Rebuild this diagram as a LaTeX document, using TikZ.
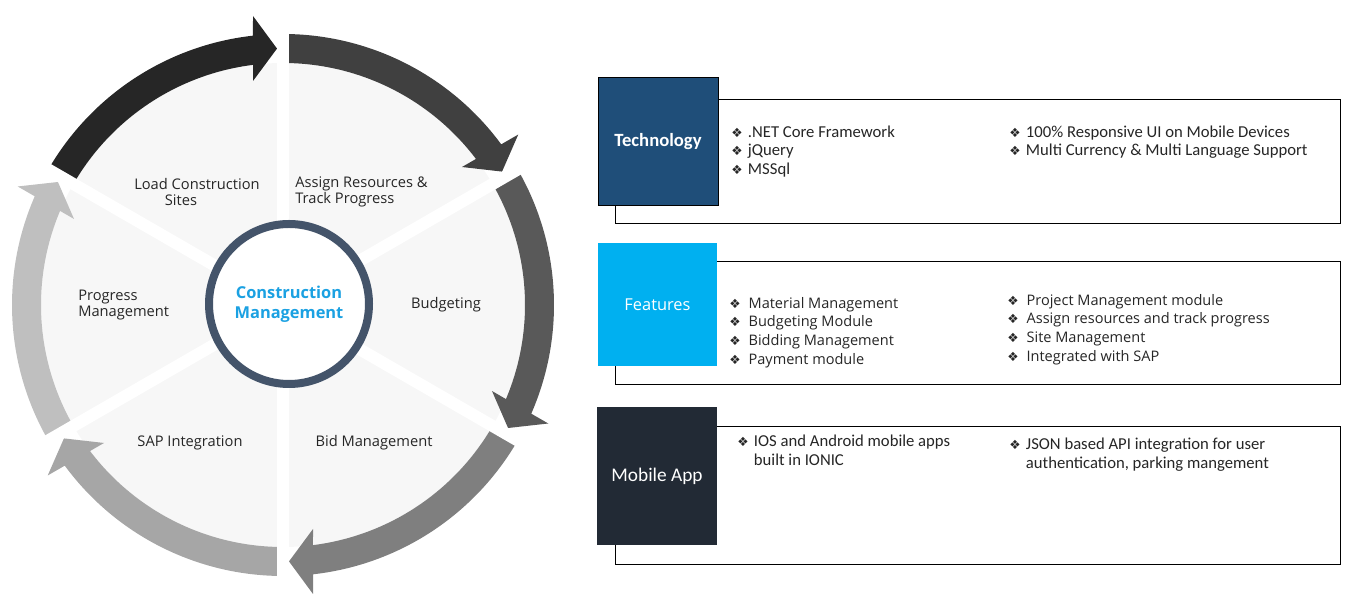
\documentclass[tikz,border=0pt]{standalone}
\usepackage{fontspec}
\setmainfont{Open Sans}
\newfontfamily\narrowfont{Carlito}
\newfontfamily\bulletfont{DejaVu Sans}
\definecolor{arrowA}{HTML}{262626}
\definecolor{arrowB}{HTML}{404040}
\definecolor{arrowC}{HTML}{595959}
\definecolor{arrowD}{HTML}{7F7F7F}
\definecolor{arrowE}{HTML}{A6A6A6}
\definecolor{arrowF}{HTML}{BFBFBF}
\definecolor{diskgray}{HTML}{F7F7F7}
\definecolor{hubring}{HTML}{44546A}
\definecolor{hubtext}{HTML}{1BA1E2}
\definecolor{techblue}{HTML}{1F4E79}
\definecolor{featcyan}{HTML}{00B0F0}
\definecolor{appnavy}{HTML}{222A35}
\definecolor{labeltext}{HTML}{262626}
\newcommand{\bul}{{\bulletfont\fontsize{9.5}{9.5}\selectfont ❖}}
\tikzset{
  gapline/.style={white, line width=9pt},
  hub/.style={circle, draw=hubring, line width=6pt, fill=white, minimum size=120pt,
    inner sep=0pt, align=center, text=hubtext, font=\bfseries\fontsize{12.3}{15}\selectfont},
  seglabel/.style={text=labeltext, inner sep=0pt, align=left, font=\fontsize{11}{12}\selectfont},
  tagbox/.style={inner sep=0pt, text=white},
  panel/.style={draw=black, line width=0.75pt, fill=white, inner sep=0pt, minimum width=543.75pt},
  itemlist/.style={anchor=north west, inner sep=0pt, text=labeltext},
}
\begin{document}
\begin{tikzpicture}[x=0.75pt, y=0.75pt]
    \useasboundingbox (0,0) rectangle (1356,602);
    % wheel
    \begin{scope}[shift={(283,297)}]
        \fill[diskgray] (0,0) circle[radius=242];
        \fill[arrowA] (150:271) arc[start angle=150, end angle=96.36, radius=271] -- (-30,289) -- (-6,256.4) -- (-30,224) -- (97.12:242) arc[start angle=97.12, end angle=150, radius=242] -- cycle;
        \fill[arrowB, rotate=-60] (150:271) arc[start angle=150, end angle=96.36, radius=271] -- (-30,289) -- (-6,256.4) -- (-30,224) -- (97.12:242) arc[start angle=97.12, end angle=150, radius=242] -- cycle;
        \fill[arrowC, rotate=-120] (150:271) arc[start angle=150, end angle=96.36, radius=271] -- (-30,289) -- (-6,256.4) -- (-30,224) -- (97.12:242) arc[start angle=97.12, end angle=150, radius=242] -- cycle;
        \fill[arrowD, rotate=-180] (150:271) arc[start angle=150, end angle=96.36, radius=271] -- (-30,289) -- (-6,256.4) -- (-30,224) -- (97.12:242) arc[start angle=97.12, end angle=150, radius=242] -- cycle;
        \fill[arrowE, rotate=-240] (150:271) arc[start angle=150, end angle=96.36, radius=271] -- (-30,289) -- (-6,256.4) -- (-30,224) -- (97.12:242) arc[start angle=97.12, end angle=150, radius=242] -- cycle;
        \fill[arrowF, rotate=-300] (150:271) arc[start angle=150, end angle=96.36, radius=271] -- (-30,289) -- (-6,256.4) -- (-30,224) -- (97.12:242) arc[start angle=97.12, end angle=150, radius=242] -- cycle;
        \draw[gapline] (0,0) -- (90:300);
        \draw[gapline] (0,0) -- (30:300);
        \draw[gapline] (0,0) -- (-30:300);
        \draw[gapline] (0,0) -- (-90:300);
        \draw[gapline] (0,0) -- (-150:300);
        \draw[gapline] (0,0) -- (150:300);
        \node[hub] (hub) at (6,1) {Construction\\Management};
    \end{scope}
    \node[seglabel, anchor=west] (load) at (134,410) {Load Construction\\\hspace*{23pt}Sites};
    \node[seglabel, anchor=west] (assign) at (295,410) {Assign Resources \&\\Track Progress};
    \node[seglabel] (budget) at (446,297) {Budgeting};
    \node[seglabel] (bid) at (374,159) {Bid Management};
    \node[seglabel] (sap) at (190,159) {SAP Integration};
    \node[seglabel, anchor=west] (progress) at (78,297) {Progress\\Management};
    % technology
    \node[panel, minimum height=93pt] (techpanel) at (977.5,440) {};
    \node[tagbox, fill=techblue, draw=black, line width=0.75pt, minimum width=90pt, minimum height=96pt,
        font=\narrowfont\bfseries\fontsize{14}{16}\selectfont] (tech) at (658,460) {Technology};
    \node[itemlist, font=\narrowfont\fontsize{12.5}{14}\selectfont] (techleft) at (731,478) {%
        \begin{tabular}{@{}l@{\hspace{4pt}}l@{}}
        \bul & .NET Core Framework\\
        \bul & jQuery\\
        \bul & MSSql
        \end{tabular}};
    \node[itemlist, font=\narrowfont\fontsize{12.5}{14}\selectfont] (techright) at (1009,478) {%
        \begin{tabular}{@{}l@{\hspace{4pt}}l@{}}
        \bul & 100\% Responsive UI on Mobile Devices\\
        \bul & Multi Currency \& Multi Language Support
        \end{tabular}};
    % features
    \node[panel, minimum height=92.25pt] (featpanel) at (977.5,278.5) {};
    \node[tagbox, fill=featcyan, minimum width=89.25pt, minimum height=92.25pt,
        font=\fontsize{12.3}{14}\selectfont] (feat) at (657.5,297.5) {Features};
    \node[itemlist, font=\fontsize{10.9}{14}\selectfont] (featleft) at (729,307) {%
        \begin{tabular}{@{}l@{\hspace{6pt}}l@{}}
        \bul & Material Management\\
        \bul & Budgeting Module\\
        \bul & Bidding Management\\
        \bul & Payment module
        \end{tabular}};
    \node[itemlist, font=\fontsize{10.9}{14}\selectfont] (featright) at (1007,310) {%
        \begin{tabular}{@{}l@{\hspace{6pt}}l@{}}
        \bul & Project Management module\\
        \bul & Assign resources and track progress\\
        \bul & Site Management\\
        \bul & Integrated with SAP
        \end{tabular}};
    % mobile app
    \node[panel, minimum height=103.5pt] (apppanel) at (977.5,106) {};
    \node[tagbox, fill=appnavy, minimum width=90pt, minimum height=103.5pt,
        font=\narrowfont\fontsize{14.5}{16}\selectfont] (app) at (657,126) {Mobile App};
    \node[itemlist, font=\narrowfont\fontsize{12.5}{14.25}\selectfont] (appleft) at (737,169) {%
        \begin{tabular}{@{}l@{\hspace{4pt}}l@{}}
        \bul & IOS and Android mobile apps\\
             & built in IONIC
        \end{tabular}};
    \node[itemlist, font=\narrowfont\fontsize{12.5}{14.25}\selectfont] (appright) at (1009,166) {%
        \begin{tabular}{@{}l@{\hspace{4pt}}l@{}}
        \bul & JSON based API integration for user\\
             & authentication, parking mangement
        \end{tabular}};
\end{tikzpicture}
\end{document}
